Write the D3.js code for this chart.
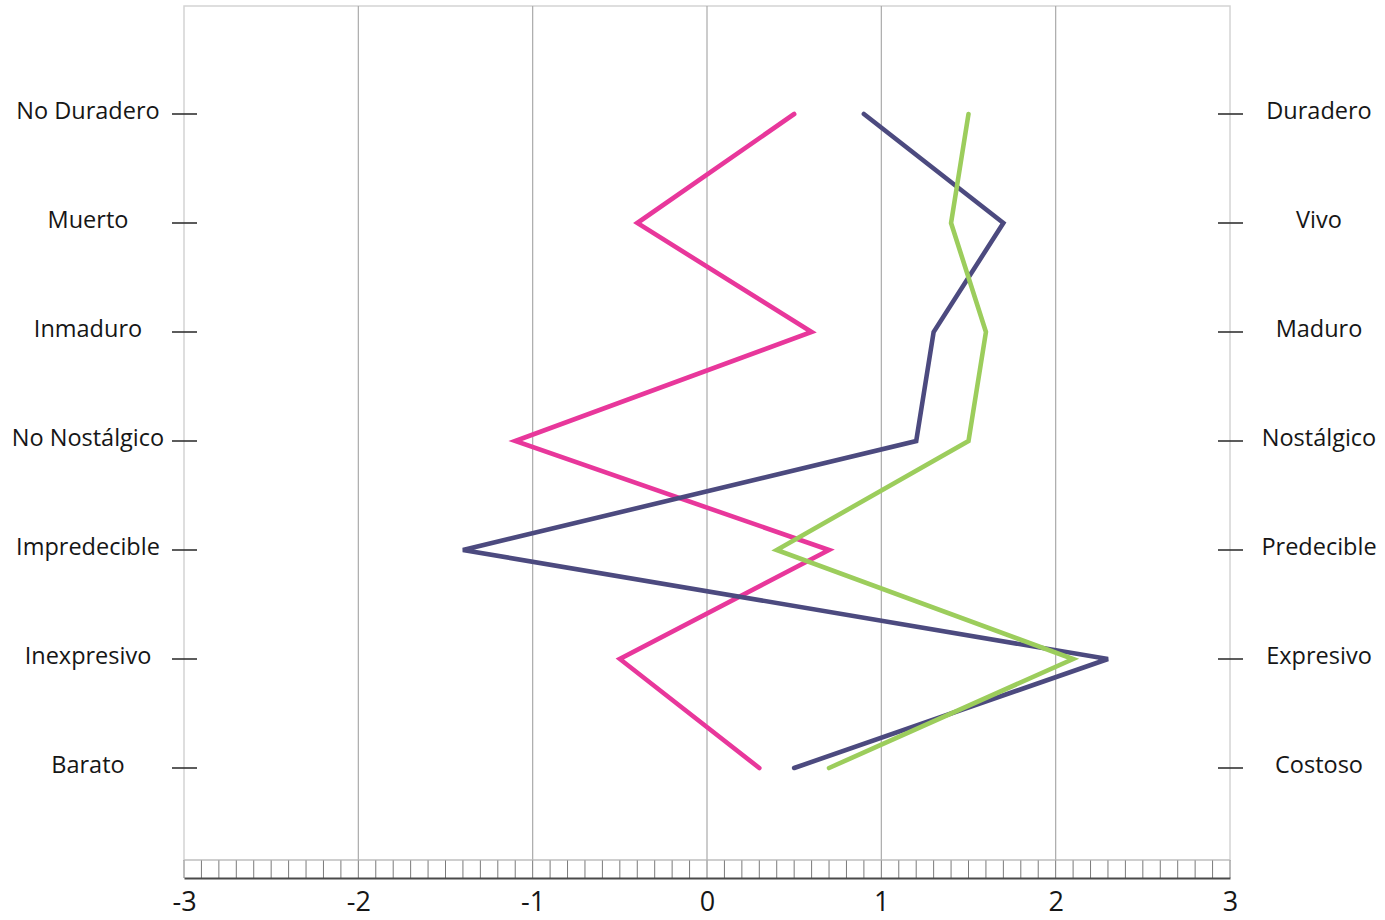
<!DOCTYPE html>
<html>
<head>
<meta charset="utf-8">
<script src="https://cdn.jsdelivr.net/npm/d3@7"></script>
<style>
  body { margin: 0; background: #fff; }
  text { font-family: "Open Sans", "Noto Sans", sans-serif; fill: #161616; }
</style>
</head>
<body>
<div id="chart"></div>
<script>
// attribute pairs, top to bottom
const leftLabels = ['No Duradero', 'Muerto', 'Inmaduro', 'No Nostálgico', 'Impredecible', 'Inexpresivo', 'Barato'];
const rightLabels = ['Duradero', 'Vivo', 'Maduro', 'Nostálgico', 'Predecible', 'Expresivo', 'Costoso'];

// series values (one per attribute pair)
const pinkValues = [0.5, -0.4, 0.6, -1.1, 0.7, -0.5, 0.3];
const navyValues = [0.9, 1.7, 1.3, 1.2, -1.4, 2.3, 0.5];
const greenValues = [1.5, 1.4, 1.6, 1.5, 0.4, 2.1, 0.7];

const xTicks = [-3, -2, -1, 0, 1, 2, 3];

const series = [
  {name: 'pink', values: pinkValues, color: '#e8379b'},
  {name: 'navy', values: navyValues, color: '#4c4a7f'},
  {name: 'green', values: greenValues, color: '#9ccd5c'}
];

const width = 1385, height = 920;
const plotLeft = 184, plotRight = 1230, plotTop = 6, stripTop = 860, axisY = 878;

const svg = d3.select('#chart')
              .append('svg')
              .attr('width', width)
              .attr('height', height);

let scaleX = d3.scaleLinear().domain([-3, 3]).range([plotLeft, plotRight]);
let scaleY = d3.scalePoint().domain(d3.range(leftLabels.length)).range([114, 768]);

// frame
svg.append('rect')
   .attr('x', plotLeft)
   .attr('y', plotTop)
   .attr('width', plotRight - plotLeft)
   .attr('height', stripTop - plotTop)
   .style('fill', 'none')
   .style('stroke', '#d4d4d4')
   .style('stroke-width', 1.5);

// vertical grid
svg.selectAll('.grid')
   .data(xTicks.slice(1, -1))
   .enter()
   .append('line')
   .attr('class', 'grid')
   .attr('x1', d => scaleX(d))
   .attr('x2', d => scaleX(d))
   .attr('y1', plotTop)
   .attr('y2', stripTop)
   .style('stroke', '#aaaaaa')
   .style('stroke-width', 1.2);

// minor tick strip
let minor = d3.range(-30, 31).map(d => d / 10);
svg.selectAll('.minor')
   .data(minor)
   .enter()
   .append('line')
   .attr('class', 'minor')
   .attr('x1', d => scaleX(d))
   .attr('x2', d => scaleX(d))
   .attr('y1', stripTop)
   .attr('y2', axisY)
   .style('stroke', '#7a7a7a')
   .style('stroke-width', 1);

svg.append('line')
   .attr('x1', plotLeft).attr('x2', plotRight)
   .attr('y1', stripTop).attr('y2', stripTop)
   .style('stroke', '#bdbdbd')
   .style('stroke-width', 1);

// bottom axis
let xAxis = d3.axisBottom(scaleX).tickValues(xTicks).tickSize(0).tickPadding(14);
let xAxisGroup = svg.append('g')
                    .attr('transform', 'translate(0,' + axisY + ')')
                    .call(xAxis);
xAxisGroup.select('.domain').style('stroke', '#4a4a4a').style('stroke-width', 2);
xAxisGroup.selectAll('text')
          .style('font-size', '27px')
          .style('font-family', '"Open Sans", "Noto Sans", sans-serif')
          .style('fill', '#161616')
          .text(d => d);

// side ticks and labels
svg.selectAll('.ltick')
   .data(leftLabels)
   .enter()
   .append('line')
   .attr('x1', 172).attr('x2', 197)
   .attr('y1', (d, i) => scaleY(i))
   .attr('y2', (d, i) => scaleY(i))
   .style('stroke', '#333')
   .style('stroke-width', 1.6);

svg.selectAll('.rtick')
   .data(rightLabels)
   .enter()
   .append('line')
   .attr('x1', 1218).attr('x2', 1243)
   .attr('y1', (d, i) => scaleY(i))
   .attr('y2', (d, i) => scaleY(i))
   .style('stroke', '#333')
   .style('stroke-width', 1.6);

svg.selectAll('.llabel')
   .data(leftLabels)
   .enter()
   .append('text')
   .attr('x', 88)
   .attr('y', (d, i) => scaleY(i) - 3)
   .attr('dy', '0.35em')
   .style('text-anchor', 'middle')
   .style('font-size', '23.5px')
   .text(d => d);

svg.selectAll('.rlabel')
   .data(rightLabels)
   .enter()
   .append('text')
   .attr('x', 1319)
   .attr('y', (d, i) => scaleY(i) - 3)
   .attr('dy', '0.35em')
   .style('text-anchor', 'middle')
   .style('font-size', '23.5px')
   .text(d => d);

// profile lines
let line = d3.line()
             .x(d => scaleX(d))
             .y((d, i) => scaleY(i));

svg.selectAll('.profile')
   .data(series)
   .enter()
   .append('path')
   .attr('class', 'profile')
   .attr('d', d => line(d.values))
   .style('fill', 'none')
   .style('stroke', d => d.color)
   .style('stroke-width', 4.6)
   .style('stroke-linejoin', 'miter')
   .style('stroke-linecap', 'round');
</script>
</body>
</html>
